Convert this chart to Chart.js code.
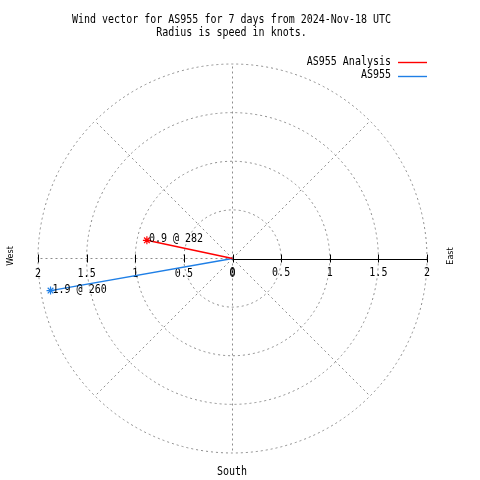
<!DOCTYPE html>
<html><head><meta charset="utf-8">
<script src="https://cdn.jsdelivr.net/npm/chart.js@4/dist/chart.umd.min.js"></script>
<style>html,body{margin:0;padding:0;background:#fff}canvas{display:block}</style>
</head><body>
<canvas id="c" width="480" height="480"></canvas>
<script>
/* ── data ── */
const seriesNames=['AS955 Analysis','AS955'];
const seriesColors=['#ff0000','#1f7fe6'];
const speeds=[0.9,1.9];       // knots
const directions=[282,260];   // compass degrees
const ringValues=[0.5,1,1.5,2];
const westTickLabels=['2','1.5','1','0.5','0'];
const eastTickLabels=['0','0.5','1','1.5','2'];
const titleLines=['Wind vector for AS955 for 7 days from 2024-Nov-18 UTC','Radius is speed in knots.'];

/* ── layout ── */
const CX=232.5,CY=258.5,PXU=97.25,W=480,H=480;
const FONT='10px "DejaVu Sans Mono", monospace';
const GRID='#8c8c8c';

function vec(s,d){const r=d*Math.PI/180;return {x:s*Math.sin(r),y:s*Math.cos(r)}}

function txt(ctx,s,x,y,align){
  ctx.save();ctx.translate(x,y);ctx.scale(1,1.15);
  ctx.textAlign=align||'left';ctx.textBaseline='middle';ctx.fillText(s,0,0);ctx.restore();
}

const datasets=speeds.map(function(s,i){
  return {label:seriesNames[i],data:[{x:0,y:0},vec(s,directions[i])],
    borderColor:seriesColors[i],backgroundColor:seriesColors[i],borderWidth:1.4,
    pointStyle:'star',pointRadius:[0,4],pointBorderColor:seriesColors[i],pointBorderWidth:1.2,
    showLine:true,tension:0};
});

const polarGrid={
  id:'polarGrid',
  beforeDatasetsDraw(chart){
    const ctx=chart.ctx,xs=chart.scales.x,ys=chart.scales.y;
    const ox=xs.getPixelForValue(0),oy=ys.getPixelForValue(0);
    const rmax=ringValues[ringValues.length-1];
    const R=function(v){return xs.getPixelForValue(v)-ox};
    ctx.save();
    ctx.strokeStyle=GRID;ctx.lineWidth=1;ctx.setLineDash([2,3]);
    ringValues.forEach(function(v){ctx.beginPath();ctx.arc(ox,oy,R(v),0,Math.PI*2);ctx.stroke()});
    // spokes: N, S, W and diagonals
    [0,45,135,180,225,270,315].forEach(function(a){
      const p=vec(rmax,a);
      ctx.beginPath();ctx.moveTo(ox,oy);
      ctx.lineTo(xs.getPixelForValue(p.x),ys.getPixelForValue(p.y));ctx.stroke();
    });
    ctx.setLineDash([]);
    // solid east axis
    ctx.strokeStyle='#000';
    ctx.beginPath();ctx.moveTo(ox,Math.round(oy)+0.5);ctx.lineTo(xs.getPixelForValue(rmax),Math.round(oy)+0.5);ctx.stroke();
    [-2,-1.5,-1,-0.5,0,0.5,1,1.5,2].forEach(function(v){
      const px=Math.round(xs.getPixelForValue(v))+0.5;
      ctx.beginPath();ctx.moveTo(px,oy-4);ctx.lineTo(px,oy+4);ctx.stroke();
    });
    ctx.fillStyle='#000';ctx.font=FONT;
    westTickLabels.forEach(function(l){txt(ctx,l,xs.getPixelForValue(-Number(l)),oy+16,'center')});
    eastTickLabels.forEach(function(l){txt(ctx,l,xs.getPixelForValue(Number(l)),oy+15,'center')});
    ctx.restore();
  },
  afterDatasetsDraw(chart){
    const ctx=chart.ctx,xs=chart.scales.x,ys=chart.scales.y;
    ctx.save();ctx.fillStyle='#000';ctx.font=FONT;
    // point labels
    speeds.forEach(function(s,i){
      const p=vec(s,directions[i]);
      txt(ctx,s.toFixed(1)+' @ '+directions[i],xs.getPixelForValue(p.x)+2,ys.getPixelForValue(p.y)-1,'left');
    });
    // title
    txt(ctx,titleLines[0],231.5,20,'center');
    txt(ctx,titleLines[1],231.5,33,'center');
    // legend
    seriesNames.forEach(function(n,i){
      const y=62+i*13.5;
      txt(ctx,n,391,y,'right');
      ctx.strokeStyle=seriesColors[i];ctx.lineWidth=1.4;
      ctx.beginPath();ctx.moveTo(398,Math.round(y)+0.5);ctx.lineTo(427,Math.round(y)+0.5);ctx.stroke();
    });
    txt(ctx,'South',232,472,'center');
    // compass side labels
    ctx.font='8px "DejaVu Sans", sans-serif';ctx.textAlign='center';ctx.textBaseline='middle';
    [['West',11],['East',451]].forEach(function(c){
      ctx.save();ctx.translate(c[1],256);ctx.rotate(-Math.PI/2);ctx.fillText(c[0],0,0);ctx.restore();
    });
    ctx.restore();
  }
};

new Chart(document.getElementById('c'),{
  type:'scatter',
  data:{datasets:datasets},
  options:{
    responsive:false,animation:false,
    layout:{padding:0,autoPadding:false},
    plugins:{legend:{display:false},tooltip:{enabled:false},title:{display:false}},
    scales:{
      x:{type:'linear',display:false,min:-CX/PXU,max:(W-CX)/PXU},
      y:{type:'linear',display:false,min:-(H-CY)/PXU,max:CY/PXU}
    }
  },
  plugins:[polarGrid]
});
</script>
</body></html>
